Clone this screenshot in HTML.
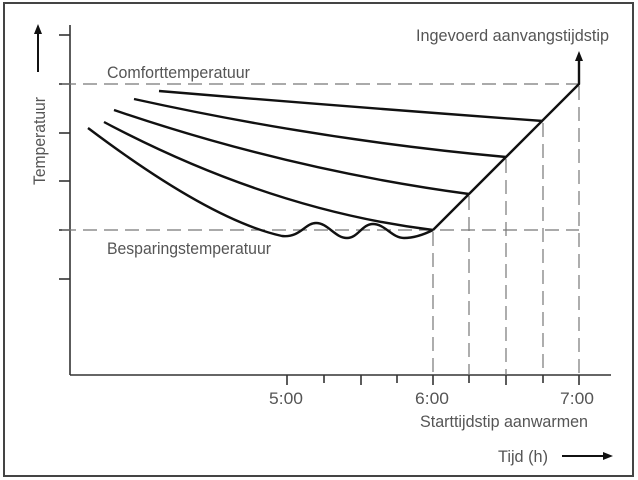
<!DOCTYPE html>
<html><head><meta charset="utf-8"><style>
html,body{margin:0;padding:0;background:#fff;}
svg{display:block;}
text{font-family:"Liberation Sans",sans-serif;fill:#555;font-size:17px;}
</style></head><body>
<svg width="638" height="480" viewBox="0 0 638 480">
<rect x="4" y="3" width="629" height="473" fill="none" stroke="#444" stroke-width="2"/>
<g stroke="#333" stroke-width="1.6" fill="none">
<line x1="70" y1="25" x2="70" y2="375"/>
<line x1="70" y1="375" x2="611" y2="375"/>
<line x1="59" y1="35" x2="70" y2="35"/>
<line x1="59" y1="84" x2="70" y2="84"/>
<line x1="59" y1="133" x2="70" y2="133"/>
<line x1="59" y1="181" x2="70" y2="181"/>
<line x1="59" y1="230" x2="70" y2="230"/>
<line x1="59" y1="279" x2="70" y2="279"/>
<line x1="287" y1="375" x2="287" y2="385"/>
<line x1="324" y1="375" x2="324" y2="383"/>
<line x1="361" y1="375" x2="361" y2="385"/>
<line x1="397" y1="375" x2="397" y2="383"/>
<line x1="433" y1="375" x2="433" y2="385"/>
<line x1="469" y1="375" x2="469" y2="383"/>
<line x1="506" y1="375" x2="506" y2="385"/>
<line x1="543" y1="375" x2="543" y2="383"/>
<line x1="579" y1="375" x2="579" y2="385"/>
</g>
<g stroke="#777" stroke-width="1.2" stroke-dasharray="14,7" fill="none">
<line x1="62" y1="84" x2="579" y2="84"/>
<line x1="62" y1="230" x2="579" y2="230"/>
<line x1="433" y1="232" x2="433" y2="375"/>
<line x1="469" y1="196" x2="469" y2="375"/>
<line x1="506" y1="159" x2="506" y2="375"/>
<line x1="543" y1="123" x2="543" y2="375"/>
<line x1="579" y1="86" x2="579" y2="375"/>
</g>
<g stroke="#111" stroke-width="2.4" fill="none" stroke-linejoin="round">
<path d="M159,91 Q350,107 543,121"/>
<path d="M134,99 Q320,140 506,157"/>
<path d="M114,110 Q290,170 469,194"/>
<path d="M104,122 Q270,210 433,230"/>
<path d="M88,128 Q210,220 282,236 C300,238 305,223 316,223 C328,223 335,238 347,238 C358,238 362,224 373,224 C385,224 392,238 404,238 C415,238 425,234 433,230"/>
<path d="M433,230 L579,84 L579,58"/>
</g>
<polygon points="579,51 575,61 583,61" fill="#111"/>
<line x1="38" y1="72" x2="38" y2="32" stroke="#111" stroke-width="2"/>
<polygon points="38,24 34,34 42,34" fill="#111"/>
<line x1="562" y1="456" x2="604" y2="456" stroke="#111" stroke-width="2"/>
<polygon points="613,456 603,452 603,460" fill="#111"/>
<text x="107" y="78" textLength="143" lengthAdjust="spacingAndGlyphs">Comforttemperatuur</text>
<text x="107" y="254" textLength="164" lengthAdjust="spacingAndGlyphs">Besparingstemperatuur</text>
<text x="416" y="41" textLength="193" lengthAdjust="spacingAndGlyphs">Ingevoerd aanvangstijdstip</text>
<text x="269" y="404" textLength="34" lengthAdjust="spacingAndGlyphs">5:00</text>
<text x="415" y="404" textLength="34" lengthAdjust="spacingAndGlyphs">6:00</text>
<text x="560" y="404" textLength="34" lengthAdjust="spacingAndGlyphs">7:00</text>
<text x="420" y="427" textLength="168" lengthAdjust="spacingAndGlyphs">Starttijdstip aanwarmen</text>
<text x="498" y="462" textLength="50" lengthAdjust="spacingAndGlyphs">Tijd (h)</text>
<text transform="translate(45,185) rotate(-90)" textLength="88" lengthAdjust="spacingAndGlyphs">Temperatuur</text>
</svg>
</body></html>
